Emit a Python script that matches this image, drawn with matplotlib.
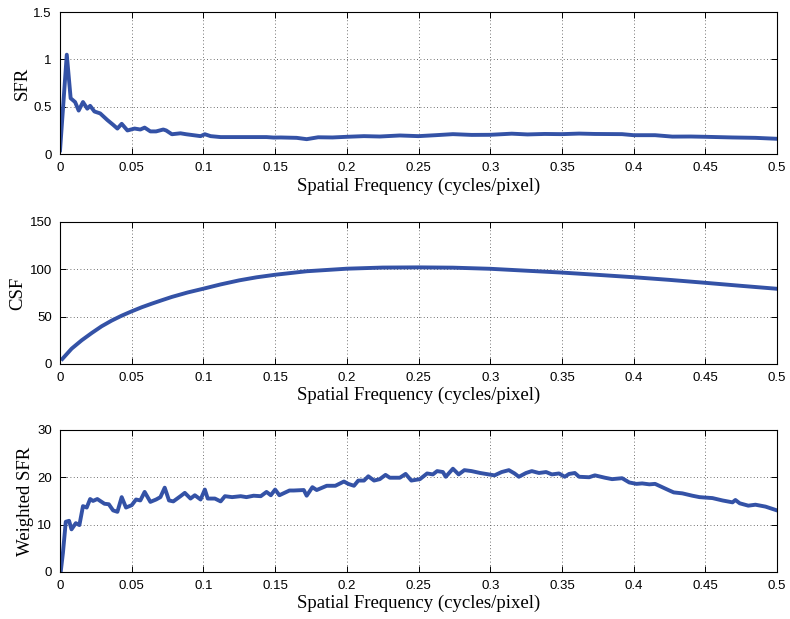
import numpy as np
import matplotlib
matplotlib.use("Agg")
import matplotlib.pyplot as plt

# SFR
sfr_f = [0.0, 0.0047, 0.0074, 0.0105, 0.013, 0.016, 0.019, 0.021, 0.024, 0.028,
         0.033, 0.037, 0.040, 0.043, 0.047, 0.052, 0.056, 0.059, 0.063, 0.067,
         0.072, 0.074, 0.078, 0.084, 0.088, 0.093, 0.098, 0.101, 0.105, 0.112,
         0.126, 0.144, 0.149, 0.154, 0.165, 0.172, 0.18, 0.19, 0.2, 0.212, 0.223,
         0.237, 0.25, 0.262, 0.274, 0.287, 0.3, 0.315, 0.326, 0.338, 0.35, 0.362,
         0.373, 0.392, 0.4, 0.415, 0.427, 0.44, 0.45, 0.469, 0.485, 0.5]
sfr_v = [0.04, 1.05, 0.59, 0.55, 0.46, 0.55, 0.48, 0.51, 0.45, 0.43,
         0.36, 0.31, 0.27, 0.32, 0.25, 0.27, 0.26, 0.28, 0.24, 0.24,
         0.26, 0.25, 0.21, 0.22, 0.21, 0.20, 0.19, 0.21, 0.19, 0.18,
         0.18, 0.18, 0.175, 0.176, 0.172, 0.158, 0.178, 0.176, 0.183, 0.19, 0.186,
         0.197, 0.19, 0.2, 0.211, 0.203, 0.204, 0.216, 0.208, 0.213, 0.211, 0.217,
         0.213, 0.211, 0.2, 0.2, 0.185, 0.186, 0.183, 0.176, 0.172, 0.162]

# CSF (middle panel)
csf_f = [0.0016, 0.0081, 0.0151, 0.0221, 0.029, 0.036, 0.043, 0.05, 0.057, 0.064,
         0.071, 0.078, 0.089, 0.1, 0.112, 0.125, 0.137, 0.15, 0.172, 0.2,
         0.225, 0.25, 0.274, 0.3, 0.325, 0.35, 0.376, 0.4, 0.425, 0.45,
         0.475, 0.5]
csf_v = [5.3, 16.2, 25, 32.7, 39.8, 45.8, 51, 55.6, 59.9, 63.7,
         67.3, 70.8, 75.5, 79.5, 84, 88.3, 91.5, 94.2, 97.9, 100.6,
         101.8, 102, 101.7, 100.5, 98.5, 96.5, 94, 91.6, 88.8, 85.7,
         82.5, 79.4]

# Weighted SFR (bottom panel)
wsfr_f = [0.0005, 0.002, 0.004, 0.0063, 0.008, 0.011, 0.0135, 0.016, 0.0186, 0.021,
          0.023, 0.026, 0.029, 0.031, 0.034, 0.037, 0.040, 0.043, 0.046, 0.050,
          0.053, 0.056, 0.059, 0.063, 0.067, 0.070, 0.073, 0.076, 0.079, 0.084,
          0.087, 0.091, 0.094, 0.098, 0.101, 0.103, 0.108, 0.112, 0.115, 0.12,
          0.126, 0.13, 0.135, 0.14, 0.144, 0.147, 0.150, 0.153, 0.160, 0.163,
          0.170, 0.172, 0.176, 0.179, 0.186, 0.192, 0.198, 0.201, 0.205, 0.208,
          0.212, 0.215, 0.219, 0.223, 0.227, 0.230, 0.237, 0.241, 0.245, 0.251,
          0.256, 0.260, 0.263, 0.267, 0.269, 0.274, 0.278, 0.282, 0.287, 0.293,
          0.299, 0.303, 0.308, 0.313, 0.317, 0.320, 0.325, 0.329, 0.334, 0.339,
          0.343, 0.348, 0.352, 0.355, 0.359, 0.362, 0.369, 0.373, 0.380, 0.385,
          0.392, 0.397, 0.402, 0.406, 0.411, 0.415, 0.420, 0.425, 0.428, 0.434,
          0.441, 0.446, 0.455, 0.462, 0.469, 0.471, 0.474, 0.480, 0.485, 0.492,
          0.5]
wsfr_v = [0.1, 4, 10.6, 10.8, 9, 10.3, 9.9, 13.9, 13.6, 15.4,
          15.0, 15.4, 14.8, 14.4, 14.3, 13.0, 12.7, 15.8, 13.6, 14.1,
          15.3, 15.1, 16.9, 14.8, 15.3, 15.8, 17.8, 15.1, 14.9, 16.0,
          16.7, 15.5, 16.2, 15.3, 17.4, 15.5, 15.5, 14.9, 16.0, 15.8,
          16.0, 15.8, 16.1, 16.0, 16.9, 16.2, 17.4, 16.2, 17.2, 17.2,
          17.3, 16.1, 17.9, 17.3, 18.2, 18.2, 19.1, 18.6, 18.2, 19.3,
          19.3, 20.2, 19.3, 19.6, 20.5, 19.9, 19.9, 20.7, 19.3, 19.6,
          20.8, 20.6, 21.3, 21.1, 20.1, 21.8, 20.6, 21.5, 21.3, 20.9,
          20.6, 20.4, 21.1, 21.5, 20.8, 20.1, 20.9, 21.3, 20.9, 21.1,
          20.6, 20.8, 20.1, 20.7, 20.9, 20.1, 20.0, 20.4, 19.9, 19.6,
          19.8, 18.9, 18.6, 18.7, 18.5, 18.6, 17.9, 17.2, 16.8, 16.6,
          16.1, 15.8, 15.6, 15.1, 14.7, 15.2, 14.5, 14.0, 14.2, 13.8,
          13.0]

xticks = [0, 0.05, 0.1, 0.15, 0.2, 0.25, 0.3, 0.35, 0.4, 0.45, 0.5]
xticklabels = ['0', '0.05', '0.1', '0.15', '0.2', '0.25', '0.3', '0.35', '0.4', '0.45', '0.5']

panels = [
    (sfr_f, sfr_v, 'SFR', [0, 0.5, 1, 1.5], ['0', '0.5', '1', '1.5'], 1.5),
    (csf_f, csf_v, 'CSF', [0, 50, 100, 150], ['0', '50', '100', '150'], 150),
    (wsfr_f, wsfr_v, 'Weighted SFR', [0, 10, 20, 30], ['0', '10', '20', '30'], 30),
]

fig = plt.figure(figsize=(7.9, 6.19), dpi=100)
bottoms = [0.751, 0.412, 0.076]
line_color = '#3452A6'

for (f, v, ylab, yt, ytl, ymax), b in zip(panels, bottoms):
    ax = fig.add_axes([0.076, b, 0.9075, 0.2295])
    ax.plot(f, v, color=line_color, lw=2.8, solid_joinstyle='round')
    ax.set_xlim(0, 0.5)
    ax.set_ylim(0, ymax)
    ax.set_xticks(xticks)
    ax.set_xticklabels(xticklabels, fontfamily='Liberation Sans', fontsize=9.5)
    ax.set_yticks(yt)
    ax.set_yticklabels(ytl, fontfamily='Liberation Sans', fontsize=9.5)
    ax.tick_params(direction='in', top=True, right=True, length=4, width=0.7, pad=6)
    ax.grid(True, linestyle=(0, (1, 3)), color='#444444', linewidth=0.6)
    for s in ax.spines.values():
        s.set_linewidth(0.8)
    ax.set_xlabel('Spatial Frequency (cycles/pixel)', fontfamily='Liberation Serif',
                  fontsize=13.5, labelpad=2)
    ax.set_ylabel(ylab, fontfamily='Liberation Serif', fontsize=13.5, labelpad=2)

fig.savefig('out.png', dpi=100)
